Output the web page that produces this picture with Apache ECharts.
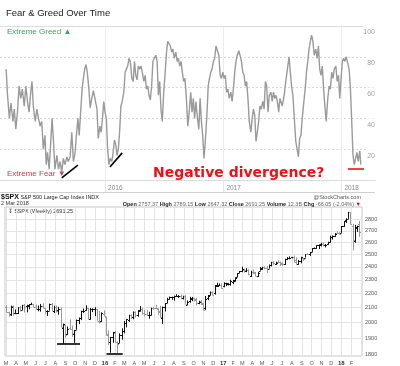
<!DOCTYPE html>
<html><head><meta charset="utf-8">
<script src="https://cdn.jsdelivr.net/npm/echarts@6/dist/echarts.min.js"></script>
<style>html,body{margin:0;padding:0;background:#fff}#c{width:400px;height:366px}</style>
</head><body><div id="c"></div>
<script>
// ---------- Fear & Greed (top panel) ----------
const fgDates = ['2015-03-01','2015-03-05','2015-03-11','2015-03-16','2015-03-22','2015-03-26','2015-03-31','2015-04-05','2015-04-10','2015-04-15','2015-04-20','2015-04-26','2015-05-01','2015-05-06','2015-05-11','2015-05-16','2015-05-20','2015-05-24','2015-05-30','2015-06-04','2015-06-09','2015-06-14','2015-06-19','2015-06-24','2015-06-29','2015-07-03','2015-07-07','2015-07-12','2015-07-17','2015-07-21','2015-07-25','2015-07-30','2015-08-05','2015-08-10','2015-08-15','2015-08-20','2015-08-25','2015-08-30','2015-09-05','2015-09-09','2015-09-15','2015-09-20','2015-09-25','2015-09-30','2015-10-05','2015-10-09','2015-10-13','2015-10-18','2015-10-22','2015-10-26','2015-10-30','2015-11-03','2015-11-07','2015-11-12','2015-11-16','2015-11-21','2015-11-26','2015-12-01',
'2015-12-07','2015-12-11','2015-12-16','2015-12-20','2015-12-24','2015-12-28','2016-01-01','2016-01-05','2016-01-09','2016-01-13','2016-01-17','2016-01-22','2016-01-26','2016-01-30','2016-02-03','2016-02-07','2016-02-11','2016-02-15','2016-02-19','2016-02-23','2016-02-28','2016-03-03','2016-03-07','2016-03-11','2016-03-15','2016-03-19','2016-03-24','2016-03-28','2016-04-01','2016-04-05','2016-04-09','2016-04-13','2016-04-17','2016-04-21','2016-04-25','2016-04-30','2016-05-04','2016-05-08','2016-05-12','2016-05-16','2016-05-20','2016-05-24','2016-05-28','2016-06-01','2016-06-06','2016-06-10','2016-06-14','2016-06-18','2016-06-22','2016-06-26','2016-07-01','2016-07-05','2016-07-09','2016-07-13','2016-07-17','2016-07-21','2016-07-25','2016-07-29','2016-08-02','2016-08-07','2016-08-11','2016-08-15','2016-08-19','2016-08-23','2016-08-27','2016-08-31','2016-09-04','2016-09-08','2016-09-13',
'2016-09-18','2016-09-22','2016-09-26','2016-09-30','2016-10-04','2016-10-08','2016-10-12','2016-10-17','2016-10-21','2016-10-25','2016-10-29','2016-11-02','2016-11-06','2016-11-11','2016-11-15','2016-11-19','2016-11-23','2016-11-27','2016-12-01','2016-12-05','2016-12-09','2016-12-13','2016-12-18','2016-12-22','2016-12-26','2016-12-30','2017-01-03','2017-01-07','2017-01-11','2017-01-15','2017-01-19','2017-01-24','2017-01-28','2017-02-01','2017-02-05','2017-02-09','2017-02-13','2017-02-18','2017-02-22','2017-02-26','2017-03-02','2017-03-06','2017-03-10','2017-03-14','2017-03-18','2017-03-22','2017-03-27','2017-03-31','2017-04-04','2017-04-08','2017-04-12','2017-04-16','2017-04-20','2017-04-24','2017-04-28','2017-05-03','2017-05-07','2017-05-11','2017-05-15','2017-05-19','2017-05-23','2017-05-28','2017-06-01','2017-06-05','2017-06-09','2017-06-13','2017-06-17','2017-06-21','2017-06-25',
'2017-07-02','2017-07-08','2017-07-13','2017-07-18','2017-07-23','2017-07-27','2017-07-31','2017-08-04','2017-08-09','2017-08-13','2017-08-17','2017-08-21','2017-08-25','2017-08-29','2017-09-02','2017-09-07','2017-09-11','2017-09-15','2017-09-19','2017-09-23','2017-09-27','2017-10-01','2017-10-05','2017-10-09','2017-10-14','2017-10-18','2017-10-22','2017-10-26','2017-10-30','2017-11-03','2017-11-07','2017-11-11','2017-11-15','2017-11-20','2017-11-24','2017-11-28','2017-12-02','2017-12-06','2017-12-10','2017-12-15','2017-12-19','2017-12-23','2017-12-27','2017-12-31','2018-01-04','2018-01-08','2018-01-12','2018-01-16','2018-01-21','2018-01-25','2018-01-29','2018-02-02','2018-02-06','2018-02-10','2018-02-14','2018-02-18','2018-02-22','2018-02-27','2018-03-02'];
const fgValues = [72,56,40,50,38,46,33,44,61,53,59,48,61,51,44,57,64,48,38,46,40,35,38,20,29,10,18,7,25,40,27,7,16,7,12,5,14,10,15,12,15,31,12,17,31,40,29,46,59,66,72,75,70,59,47,53,58,59,
46,27,35,31,40,51,44,40,20,10,14,12,18,26,23,16,20,31,48,51,57,70,72,74,79,77,66,64,77,68,65,74,72,74,70,64,68,59,61,55,52,61,77,79,81,77,55,64,46,38,59,70,83,90,91,87,83,85,79,83,77,79,74,77,70,64,66,55,35,
46,57,44,53,40,51,42,33,53,38,29,14,25,42,61,66,70,72,77,79,87,86,81,68,66,70,66,68,57,59,53,57,51,59,70,77,81,84,83,77,70,68,61,64,53,38,31,40,46,42,25,31,38,48,46,51,46,64,61,44,55,57,51,57,53,55,51,44,53,
48,55,64,72,80,70,61,55,38,25,20,15,27,29,40,51,59,70,77,85,90,94,90,81,85,79,87,72,68,74,59,48,38,53,61,59,70,66,72,74,64,68,53,66,77,79,77,80,79,72,59,38,16,10,14,18,12,19,10];
const fgYearTicks = ['2016-01-01','2017-01-01','2018-01-01'];
const fgTrendLines = [
  {from:['2015-08-20',1.3], to:['2015-10-09',9.7], color:'#000000'},
  {from:['2016-01-16',8.5], to:['2016-02-23',17.6], color:'#000000'},
  {from:['2018-01-21',7.2], to:['2018-03-12',7.2], color:'#e8141c'}
];

// ---------- $SPX weekly OHLC (bottom panel), weeks starting Monday 2 Mar 2015 ----------
const spxOpen  = [2105,2072,2055,2109,2064,2064,2102,2085,2119,2110,2115,2122,2125,2108,2092,2092,2112,2098,2074,2080,2127,2079,2104,2081,2089,1966,1986,1927,1963,1961,1929,1954,2015,2032,2075,2081,2097,2023,2089,2090,2090,2013,2010,2058,
2039,1926,1878,1906,1936,1878,1871,1918,1947,1996,2020,2048,2038,2073,2050,2079,2090,2067,2057,2047,2053,2100,2100,2092,2075,2031,2102,2132,2162,2173,2173,2184,2184,2181,2171,2181,2121,2143,2158,2168,2160,2133,2149,2130,2100,2165,2186,2212,2200,2258,2260,2263,
2251,2273,2270,2267,2286,2294,2322,2355,2366,2375,2371,2379,2330,2362,2357,2333,2370,2389,2399,2393,2387,2415,2437,2425,2442,2438,2431,2424,2459,2472,2475,2478,2452,2425,2447,2470,2474,2503,2500,2521,2550,2554,2578,2588,2587,2578,2583,2602,2645,2653,2685,2683,
2684,2746,2799,2809,2867,2741,2611,2722,2757];
const spxHigh  = [2117,2072,2114,2115,2088,2103,2111,2120,2126,2120,2124,2135,2127,2122,2115,2126,2130,2098,2082,2128,2133,2114,2113,2105,2103,1993,1987,1975,2021,1981,1952,2020,2034,2080,2094,2116,2097,2097,2096,2104,2090,2077,2068,2081,
2039,1950,1908,1940,1947,1881,1931,1963,2010,2022,2052,2056,2075,2074,2084,2111,2099,2084,2084,2072,2100,2106,2120,2095,2113,2108,2132,2169,2178,2177,2184,2194,2188,2192,2184,2187,2150,2176,2175,2169,2169,2148,2154,2134,2182,2189,2214,2214,2260,2278,2273,2273,
2282,2279,2276,2301,2300,2319,2352,2368,2401,2384,2390,2382,2370,2379,2361,2361,2398,2400,2404,2406,2418,2440,2446,2441,2453,2443,2435,2464,2478,2484,2480,2490,2475,2454,2480,2471,2501,2509,2520,2552,2557,2575,2583,2597,2598,2586,2605,2658,2660,2680,2695,2692,
2743,2787,2813,2873,2870,2763,2754,2747,2789];
const spxLow   = [2067,2039,2045,2046,2056,2056,2073,2085,2067,2068,2089,2118,2104,2086,2075,2073,2096,2056,2044,2080,2077,2063,2067,2052,1971,1867,1904,1921,1953,1909,1872,1954,1990,2016,2064,2080,2023,2020,2070,2043,2012,1994,2005,2044,
1918,1858,1812,1872,1872,1810,1871,1891,1931,1969,2005,2022,2022,2033,2039,2074,2053,2039,2044,2025,2047,2085,2089,2051,2032,1992,2074,2132,2156,2155,2148,2176,2168,2160,2157,2128,2119,2134,2145,2144,2114,2124,2119,2084,2084,2152,2186,2187,2192,2248,2254,2234,
2245,2254,2258,2257,2268,2288,2321,2352,2358,2355,2359,2335,2322,2344,2328,2323,2370,2377,2381,2353,2386,2403,2416,2415,2431,2406,2407,2416,2454,2460,2467,2437,2418,2417,2428,2446,2474,2495,2488,2521,2544,2547,2544,2566,2567,2557,2579,2598,2624,2649,2673,2673,
2682,2736,2770,2808,2759,2533,2597,2691,2647];
const spxClose = [2071,2053,2108,2061,2067,2102,2081,2118,2108,2116,2123,2126,2107,2093,2094,2110,2101,2077,2077,2127,2080,2104,2078,2092,1971,1989,1921,1961,1958,1931,1951,2015,2033,2075,2079,2099,2023,2089,2090,2092,2012,2006,2061,2044,
1922,1880,1907,1940,1880,1865,1918,1948,2000,2022,2050,2036,2073,2048,2081,2092,2065,2057,2047,2052,2099,2099,2096,2071,2037,2103,2130,2162,2175,2174,2183,2184,2184,2169,2180,2128,2139,2165,2168,2154,2133,2141,2126,2085,2164,2182,2213,2192,2260,2258,2264,2239,
2277,2275,2271,2295,2297,2316,2351,2367,2383,2373,2378,2344,2363,2356,2329,2349,2384,2399,2391,2382,2416,2439,2432,2433,2438,2423,2425,2459,2473,2472,2477,2441,2426,2443,2477,2461,2500,2502,2519,2549,2553,2575,2581,2588,2582,2579,2602,2642,2652,2676,2683,2674,
2743,2786,2810,2873,2762,2620,2732,2747,2691];
const spxPriceTicks = [1800,1900,2000,2100,2200,2300,2400,2500,2600,2700,2800];
const spxTrendLines = [
  {from:['2015-08-06',1866], to:['2015-10-16',1866], color:'#000000'},
  {from:['2016-01-06',1809], to:['2016-02-25',1809], color:'#000000'},
  {from:['2018-01-29',2514], to:['2018-03-07',2674], color:'#e8141c'}
];
const monthLetters = 'JFMAMJJASOND';

// ---------- derived structures ----------
const ts = s => { const p = s.split('-').map(Number); return Date.UTC(p[0], p[1] - 1, p[2]); };
const weekDates = spxClose.map((_, i) => Date.UTC(2015, 2, 2 + 7 * i));
const monthTicks = [];
for (let k = 0; k < 36; k++) monthTicks.push(Date.UTC(2015, 2 + k, 1));
const yearTicks = fgYearTicks.map(ts);
const fgData = fgDates.map((d, i) => [ts(d), fgValues[i]]);
const ohlcData = weekDates.map((t, i) => [t, spxOpen[i], spxHigh[i], spxLow[i], spxClose[i]]);
const toMark = arr => arr.map(t => [
  {coord: [ts(t.from[0]), t.from[1]], lineStyle: {color: t.color, width: 1.6, type: 'solid'}},
  {coord: [ts(t.to[0]), t.to[1]]}
]);

const F = '"Liberation Sans", Arial, sans-serif';
const chart = echarts.init(document.getElementById('c'), null, {renderer: 'canvas'});
chart.setOption({
  animation: false,
  backgroundColor: '#ffffff',
  textStyle: {fontFamily: F},
  grid: [
    {left: 0, right: 25, top: 26, height: 154, containLabel: false},
    {left: 5, right: 38, top: 207, height: 150, show: true, borderColor: '#c8c8c8', borderWidth: 1, containLabel: false}
  ],
  xAxis: [
    {type: 'value', gridIndex: 0, min: ts('2015-02-10'), max: ts('2018-04-15'),
      axisLine: {show: true, onZero: false, lineStyle: {color: '#dcdcdc', width: 1}},
      axisTick: {show: true, length: 12, lineStyle: {color: '#e6e6e6'}, customValues: yearTicks},
      axisLabel: {customValues: yearTicks, formatter: v => String(new Date(v).getUTCFullYear()),
        align: 'left', padding: [0, 0, 0, 3], margin: 5, fontSize: 6.5, color: '#888'},
      splitLine: {show: true, lineStyle: {color: '#ececec', width: 1}}},
    {type: 'value', gridIndex: 0, position: 'top', min: ts('2015-02-10'), max: ts('2018-04-15'),
      axisLine: {show: true, onZero: false, lineStyle: {color: '#dcdcdc', width: 1}},
      axisTick: {show: false}, axisLabel: {show: false}, splitLine: {show: false}},
    {type: 'value', gridIndex: 1, min: ts('2015-02-26'), max: ts('2018-03-06'),
      axisLine: {show: false},
      axisTick: {show: false, customValues: monthTicks},
      axisLabel: {customValues: monthTicks, margin: 4, fontSize: 5.5, color: '#555',
        formatter: v => { const d = new Date(v); return d.getUTCMonth() === 0 ? '{y|' + String(d.getUTCFullYear()).slice(2) + '}' : monthLetters[d.getUTCMonth()]; },
        rich: {y: {fontWeight: 'bold', fontSize: 6, color: '#333'}}},
      splitLine: {show: true, lineStyle: {color: '#e4e4e4', width: 1}}}
  ],
  yAxis: [
    {type: 'value', gridIndex: 0, min: 0, max: 100, interval: 20, position: 'right',
      axisLine: {show: false}, axisTick: {show: false},
      axisLabel: {inside: true, formatter: v => v === 0 ? '' : String(v), fontSize: 7, color: '#a0a0a0',
        verticalAlign: 'top', align: 'right', padding: [3, 0, 0, 0], margin: 0, backgroundColor: '#ffffff'},
      splitLine: {show: true, lineStyle: {type: [2, 2], color: '#d8d8d8', width: 1}}},
    {type: 'log', gridIndex: 1, logBase: 10, min: 1793, max: 2919, position: 'right',
      axisLine: {show: false},
      axisTick: {show: false, customValues: spxPriceTicks},
      axisLabel: {customValues: spxPriceTicks, fontSize: 5.5, color: '#555', margin: 3, formatter: v => String(Math.round(v))},
      splitLine: {show: true, lineStyle: {color: '#e4e4e4', width: 1}}}
  ],
  series: [
    {type: 'line', xAxisIndex: 0, yAxisIndex: 0, data: fgData, showSymbol: false, smooth: false,
      lineStyle: {color: '#9a9a9a', width: 1.4}, z: 3,
      markLine: {symbol: 'none', silent: true, label: {show: false}, animation: false, data: toMark(fgTrendLines)}},
    {type: 'custom', xAxisIndex: 2, yAxisIndex: 1, data: ohlcData, encode: {x: 0, y: [1, 2, 3, 4]}, z: 3,
      renderItem: (params, api) => {
        const t = api.value(0);
        const o = api.coord([t, api.value(1)]);
        const h = api.coord([t, api.value(2)]);
        const l = api.coord([t, api.value(3)]);
        const c = api.coord([t, api.value(4)]);
        const up = api.value(4) >= api.value(1);
        const col = up ? '#111111' : '#9a9a9a';
        const cx = Math.round(h[0]) + 0.5;
        return {type: 'group', children: [
          {type: 'line', shape: {x1: cx, y1: h[1], x2: cx, y2: l[1]}, style: {stroke: col, lineWidth: 1}},
          {type: 'line', shape: {x1: cx - 1.5, y1: Math.round(o[1]) + 0.5, x2: cx, y2: Math.round(o[1]) + 0.5}, style: {stroke: col, lineWidth: 1}},
          {type: 'line', shape: {x1: cx, y1: Math.round(c[1]) + 0.5, x2: cx + 1.5, y2: Math.round(c[1]) + 0.5}, style: {stroke: col, lineWidth: 1}}
        ]};
      }},
    {type: 'line', xAxisIndex: 2, yAxisIndex: 1, data: [], z: 4,
      markLine: {symbol: 'none', silent: true, label: {show: false}, animation: false, data: toMark(spxTrendLines)}}
  ],
  graphic: [
    {type: 'text', left: 6, top: 8, style: {text: 'Fear & Greed Over Time', font: '9.5px ' + F, fill: '#1a1a1a'}},
    {type: 'text', left: 7, top: 28, style: {text: 'Extreme Greed \u25B2', font: '8px ' + F, fill: '#3aa655'}},
    {type: 'text', left: 7, top: 170, style: {text: 'Extreme Fear \u25BC', font: '8px ' + F, fill: '#d23a4a'}},
    {type: 'text', x: 153, y: 173, style: {text: 'Negative divergence?', font: 'bold 14px "DejaVu Sans", sans-serif', fill: '#ee1111', verticalAlign: 'middle'}},
    {type: 'line', shape: {x1: 0, y1: 192.5, x2: 375, y2: 192.5}, style: {stroke: '#d0d0d0', lineWidth: 1}},
    {type: 'text', x: 1, y: 197, style: {text: '{b|$SPX} S&P 500 Large Cap Index INDX', verticalAlign: 'middle', font: '5.5px ' + F, fill: '#222', rich: {b: {fontWeight: 'bold', fontSize: 7, fill: '#111'}}}},
    {type: 'text', x: 1, y: 203.5, style: {text: '2 Mar 2018', verticalAlign: 'middle', font: '5.5px ' + F, fill: '#333'}},
    {type: 'text', x: 361, y: 197, style: {text: '@StockCharts.com', align: 'right', verticalAlign: 'middle', font: '5.5px ' + F, fill: '#555'}},
    {type: 'text', x: 361, y: 204, style: {text: '{b|Open} 2757.37 {b|High} 2789.15 {b|Low} 2647.32 {b|Close} 2691.25 {b|Volume} 12.3B {b|Chg} -66.05 (-2.04%) {r|\u25BC}', align: 'right', verticalAlign: 'middle', font: '5.5px ' + F, fill: '#666', rich: {b: {fontWeight: 'bold', fill: '#222', fontSize: 5.5}, r: {fill: '#d00', fontSize: 5.5}}}},
    {type: 'text', x: 8, y: 211, style: {text: '\u21A7 $SPX (Weekly) 2691.25', verticalAlign: 'middle', font: '5.5px ' + F, fill: '#333'}}
  ]
});
</script></body></html>
